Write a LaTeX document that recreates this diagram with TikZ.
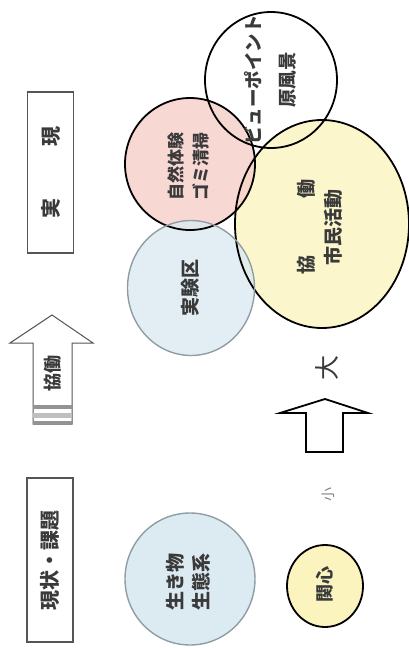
\documentclass[tikz,border=0pt]{standalone}
\usepackage{fontspec}
\setmainfont{Noto Sans CJK JP}
\usetikzlibrary{shapes.geometric}
\definecolor{cblue}{HTML}{DCEAF1}
\definecolor{cpink}{HTML}{F5CEC8}
\definecolor{cyel}{HTML}{FBF4BF}
\definecolor{bgray}{HTML}{8F9DA4}
\definecolor{boxc}{HTML}{555555}
\definecolor{txtc}{HTML}{3A3A3A}
\begin{document}
\begin{tikzpicture}[x=1pt,y=-1pt,
  circ/.style={ellipse, inner sep=0pt},
  blk/.style={circ, draw=black, line width=1.8pt},
  bluec/.style={circ, draw=bgray, line width=1.4pt},
  fil/.style={circ, fill opacity=0.8},
  txt/.style={rotate=90, align=center, font=\fontsize{18}{27}\selectfont\bfseries, text=txtc, inner sep=0pt},
  boxs/.style={rotate=90, draw=boxc, line width=1.4pt, minimum height=46pt, inner sep=0pt,
     font=\fontsize{20}{24}\selectfont\bfseries, text=txtc},
  blockarrow/.style={draw=black, line width=1.8pt, fill=white, line join=miter},
  grayarrow/.style={draw=boxc, line width=1pt, fill=white, line join=miter}
]
\useasboundingbox (0,0) rectangle (409,648);

% boxes
\node[boxs, minimum width=164pt] (genjo) at (50,560) {現状・課題};
\node[boxs, minimum width=161pt] (jitsu) at (50.5,172.5) {実\hspace{52pt}現};

% left arrow (kyodo)
\path[grayarrow] (33,424) -- (33,343) -- (10,343) -- (52,315) -- (93,343) -- (72,343) -- (72,424) -- cycle;
\fill[gray!85] (33,405) rectangle (72,408.5);
\fill[gray!50] (33,413) rectangle (72,418);
\fill[gray!85] (33,421) rectangle (72,424);
\node[txt, font=\fontsize{18}{22}\selectfont\bfseries] (kyodoA) at (52.5,373) {協働};

% circle fills
\node[fil, fill=white, minimum width=132pt, minimum height=136pt] (vp) at (271,80) {};
\node[fil, fill=cyel, minimum width=174pt, minimum height=208pt] (shimin) at (322,224) {};
\node[fil, fill=cpink, minimum width=130pt, minimum height=132pt] (shizen) at (190,164) {};
\node[fil, fill=cblue, minimum width=127pt, minimum height=135pt] (jikken) at (191,288) {};
\node[fil, fill=cblue, fill opacity=1, minimum width=130pt, minimum height=132pt] (ikimono) at (190,579) {};
\node[fil, fill=cyel, fill opacity=1, minimum width=76pt, minimum height=82pt] (kanshin) at (325,586) {};
% circle outlines
\node[blk, minimum width=132pt, minimum height=136pt] (vpO) at (vp.center) {};
\node[blk, minimum width=174pt, minimum height=208pt] (shiminO) at (shimin.center) {};
\node[blk, minimum width=130pt, minimum height=132pt] (shizenO) at (shizen.center) {};
\node[bluec, minimum width=127pt, minimum height=135pt] (jikkenO) at (jikken.center) {};
\node[bluec, minimum width=130pt, minimum height=132pt] (ikimonoO) at (ikimono.center) {};
\node[blk, minimum width=76pt, minimum height=82pt] (kanshinO) at (kanshin.center) {};

% texts
\node[txt, font=\fontsize{18.5}{34}\selectfont\bfseries] (vpT) at (270,80) {ビューポイント\\原風景};
\node[txt, font=\fontsize{17}{25}\selectfont\bfseries] (shizenT) at (188,166) {自然体験\\ゴミ清掃};
\node[txt, font=\fontsize{19}{27}\selectfont\bfseries] (shiminT) at (320,227) {協\hspace{57pt}働\\市民活動};
\node[txt, font=\fontsize{19}{22}\selectfont\bfseries] (jikkenT) at (190,288) {実験区};
\node[txt, font=\fontsize{19}{26}\selectfont\bfseries] (ikimonoT) at (188,582) {生き物\\生態系};
\node[txt, font=\fontsize{18}{22}\selectfont\bfseries] (kanshinT) at (325,584) {関心};

% small -> large
\node[txt, font=\fontsize{14}{16}\selectfont, text=gray] (sho) at (328,494) {小};
\path[blockarrow] (306,452) -- (306,413) -- (280,413) -- (325,399) -- (368,413) -- (343,413) -- (343,452) -- cycle;
\node[txt, font=\fontsize{25}{28}\selectfont, text=txtc] (dai) at (327,368) {大};
\end{tikzpicture}
\end{document}
